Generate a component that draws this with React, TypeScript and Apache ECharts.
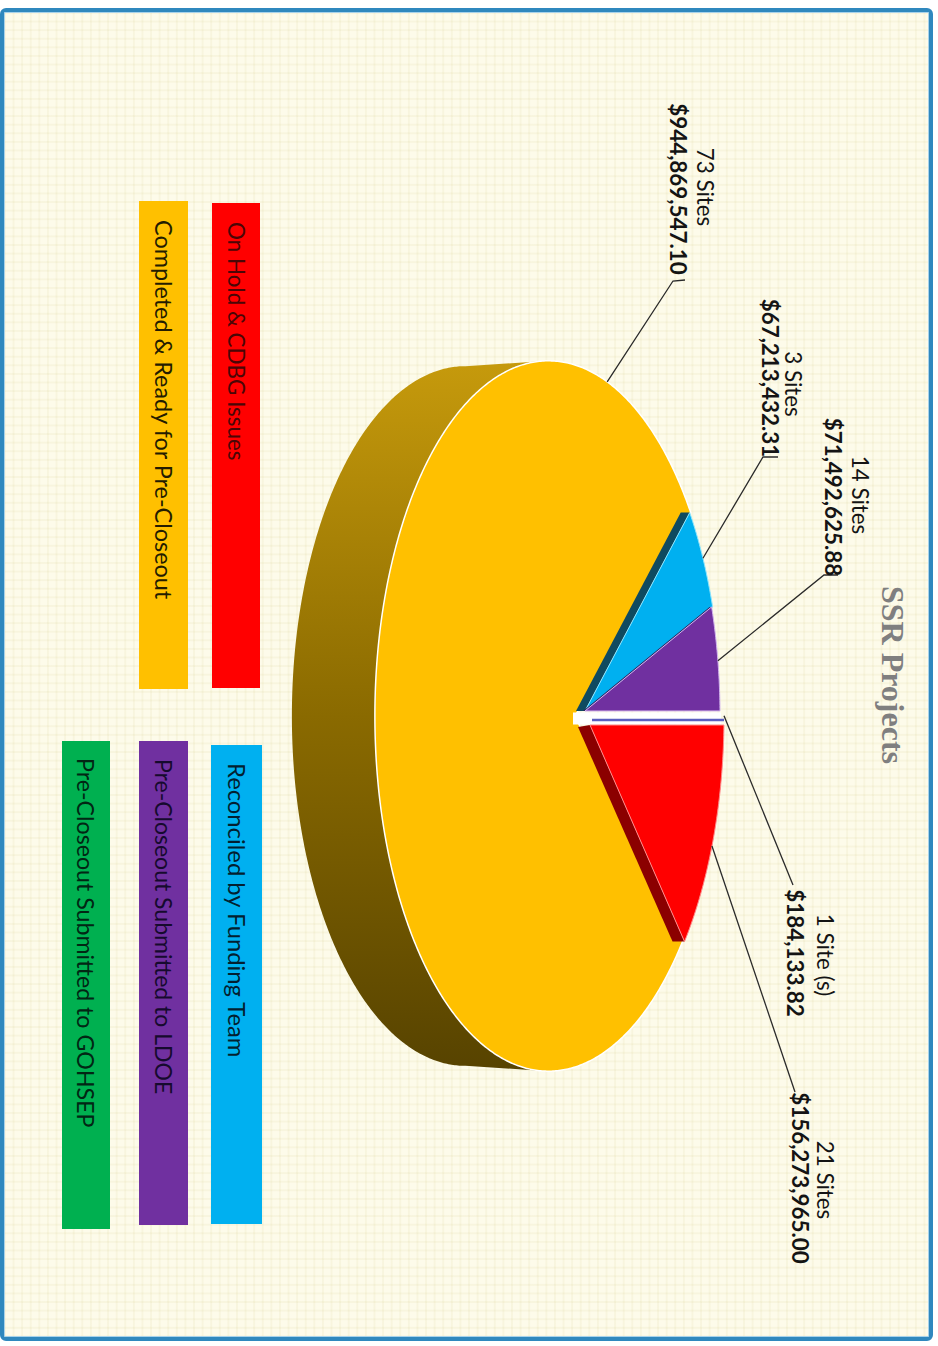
import React, { useEffect, useRef } from "react";
import * as echarts from "echarts";

// ---- data ----
const categories = [
  "Completed & Ready for Pre-Closeout",
  "Reconciled by Funding Team",
  "Pre-Closeout Submitted to LDOE",
  "Pre-Closeout Submitted to GOHSEP",
  "On Hold & CDBG Issues",
];
const amounts = [944869547.1, 67213432.31, 71492625.88, 184133.82, 156273965.0];
const siteLabels = ["73 Sites", "3 Sites", "14 Sites", "1 Site (s)", "21 Sites"];
const titleText = "SSR Projects";

// ---- style / layout (not data) ----
const W = 938;
const H = 1346;
const sliceColors = ["#FFC000", "#00B0F0", "#7030A0", "#5B5FC0", "#FF0000"];
const sliceStrokes = ["#FFFFFF", "#8FE6FF", "#D2B4EE", "#5B5FC0", "#FF8A8A"];
const wallColors = ["", "#0F4A60", "#33215F", "", "#8B0000"];
const sliceOffsetX = [0, -1, -2, 2, 2];
const sliceOffsetY = [0, 0, 0, 0, 0];
const startTrim = [0, 0, 0, 0, 1.7];
const endTrim = [0, 0, 0.9, 0, 0];
const apexX = [575, 585, 585, 592, 590];
const apexY = [716, 711, 711, 720, 725];
const wallDepth = [0, 9, 2, 0, 12];
const leaderFraction = [0.86, 0.5, 0.5, 0.5, 0.55];

const legendItems = [
  { cat: 4, x0: 212, x1: 260, y0: 203, y1: 688, ty: 222, size: 22.4, color: "#FF0000", text: "#4A0606" },
  { cat: 0, x0: 139, x1: 188, y0: 201, y1: 689, ty: 220, size: 23.4, color: "#FFC000", text: "#241C00" },
  { cat: 1, x0: 211, x1: 262, y0: 745, y1: 1224, ty: 763, size: 23.8, color: "#00B0F0", text: "#031F30" },
  { cat: 2, x0: 139, x1: 188, y0: 741, y1: 1225, ty: 759, size: 23, color: "#7030A0", text: "#160A2E" },
  { cat: 3, x0: 62, x1: 110, y0: 741, y1: 1229, ty: 758, size: 23.2, color: "#00B050", text: "#022614" },
];

const labelLayout = [
  { sx: 705, sy: 187, ax: 678, ay: 189, end: [673, 281], bar: [685, 280] },
  { sx: 793, sy: 384, ax: 770, ay: 378, end: [763, 457], bar: [778, 457] },
  { sx: 860, sy: 495, ax: 833, ay: 497, end: [824, 575], bar: [838, 575] },
  { sx: 825, sy: 955, ax: 795, ay: 953, end: [793, 885], bar: null },
  { sx: 825, sy: 1180, ax: 800, ay: 1178, end: [795, 1092], bar: null },
];

// the pie's plane seen in perspective
const CX = 575;
const CY = 716;
const A = 169.5;
const B = 351;
const K = 0.153;
const DEPTH = 83;
const rot = -Math.PI / 2;

function project(deg: number): [number, number] {
  const t = (deg * Math.PI) / 180;
  const u = Math.cos(t);
  const v = Math.sin(t);
  const d = 1 + K * u;
  return [CX + (A * u) / d, CY + (B * v) / d];
}

const total = amounts.reduce((a, b) => a + b, 0);
const spans = amounts.map((v) => (v / total) * 360);
const starts: number[] = [];
{
  let c = spans[4];
  spans.forEach((s, i) => {
    starts[i] = c;
    c += s;
  });
}

function arcPoints(from: number, to: number, dx: number, dy: number) {
  const pts: number[][] = [];
  const n = Math.max(1, Math.ceil((to - from) / 0.5));
  for (let j = 0; j <= n; j++) {
    const p = project(from + ((to - from) * j) / n);
    pts.push([p[0] + dx, p[1] + dy]);
  }
  return pts;
}

function renderSlice(params: any, api: any) {
  const i = params.dataIndex as number;
  api.value(0);
  const from = (i === 4 ? 0 : starts[i]) + startTrim[i];
  const to = (i === 4 ? 0 : starts[i]) + spans[i] - endTrim[i];
  const dx = sliceOffsetX[i];
  const dy = sliceOffsetY[i];
  const children: any[] = [];

  if (i === 0) {
    const ext = (Math.acos(-K) * 180) / Math.PI;
    const back = arcPoints(ext, 360 - ext, -DEPTH, 0).map((p) => [
      p[0],
      CY + (p[1] - CY) * 0.985,
    ]);
    const face = arcPoints(ext, 360 - ext, 0, 0);
    children.push({
      type: "polygon",
      shape: { points: [face[0], ...back, face[face.length - 1]] },
      style: {
        fill: new echarts.graphic.LinearGradient(0, 0, 0, 1, [
          { offset: 0, color: "#C69A0C" },
          { offset: 0.5, color: "#8A6A00" },
          { offset: 1, color: "#574300" },
        ]),
      },
    });
  }

  const arc = arcPoints(from, to, dx, dy);
  const apex = [apexX[i], apexY[i]];

  if (i === 3) {
    children.push({
      type: "line",
      shape: { x1: 573, y1: 718.5, x2: 721, y2: 718.5 },
      style: { stroke: "#FFFFFF", lineWidth: 12 },
    });
    children.push({
      type: "line",
      shape: { x1: apex[0], y1: apex[1], x2: arc[0][0], y2: apex[1] },
      style: { stroke: sliceColors[i], lineWidth: 2.5 },
    });
    return { type: "group", children };
  }

  if (wallDepth[i] > 0) {
    const d = wallDepth[i];
    const e = i === 4 ? arc[arc.length - 1] : arc[0];
    children.push({
      type: "polygon",
      shape: {
        points: [apex, e, [e[0] - d, e[1]], [apex[0] - d, apex[1] + (i === 4 ? 2 : 0)]],
      },
      style: { fill: wallColors[i] },
    });
  }

  children.push({
    type: "polygon",
    shape: { points: [apex, ...arc] },
    style: {
      fill: sliceColors[i],
      stroke: sliceStrokes[i],
      lineWidth: i === 0 ? 1.5 : 1,
      lineJoin: "round",
    },
  });
  return { type: "group", children };
}

function money(v: number) {
  return (
    "$" +
    v.toLocaleString("en-US", { minimumFractionDigits: 2, maximumFractionDigits: 2 })
  );
}

function rotatedText(x: number, y: number, text: string, extra: any) {
  return {
    type: "text",
    x,
    y,
    rotation: rot,
    z: 20,
    style: {
      text,
      fontFamily: "Lato",
      fontSize: 22.4,
      fill: "#141414",
      textAlign: "center",
      textVerticalAlign: "middle",
      ...extra,
    },
  };
}

function buildGraphic() {
  const g: any[] = [];
  g.push({
    type: "rect",
    shape: { x: 2, y: 10, width: 929, height: 1329, r: 4 },
    style: { fill: "transparent", stroke: "#2F88BE", lineWidth: 4 },
    z: 5,
  });
  g.push({
    type: "rect",
    shape: { x: 4.5, y: 12.5, width: 924, height: 1324 },
    style: { fill: "transparent", stroke: "#A8D2EA", lineWidth: 1 },
    z: 5,
  });
  g.push(
    rotatedText(893, 675, titleText, {
      fontFamily: "Liberation Serif",
      fontWeight: "bold",
      fontSize: 32,
      fill: "#7F7F7F",
    })
  );
  legendItems.forEach((l) => {
    g.push({
      type: "rect",
      z: 6,
      shape: { x: l.x0, y: l.y0, width: l.x1 - l.x0, height: l.y1 - l.y0 },
      style: { fill: l.color },
    });
    g.push(
      rotatedText((l.x0 + l.x1) / 2, l.ty, categories[l.cat], {
        textAlign: "left",
        fill: l.text,
        fontSize: l.size,
      })
    );
  });
  labelLayout.forEach((l, i) => {
    const base = i === 4 ? 0 : starts[i];
    const mid = base + spans[i] * leaderFraction[i];
    const p = project(mid);
    const s = [p[0] + sliceOffsetX[i], p[1] + sliceOffsetY[i]];
    const points = l.bar ? [s, l.end, l.bar] : [s, l.end];
    g.push({
      type: "polyline",
      z: 15,
      shape: { points },
      style: { stroke: "#2A2A2A", lineWidth: 1.3, fill: "none" },
    });
    g.push(rotatedText(l.sx, l.sy, siteLabels[i], {}));
    g.push(rotatedText(l.ax, l.ay, money(amounts[i]), { fontWeight: "bold" }));
  });
  return g;
}

export default function App() {
  const ref = useRef<HTMLDivElement>(null);
  useEffect(() => {
    const chart = echarts.init(ref.current!, null, { renderer: "svg" });
    chart.setOption({
      animation: false,
      backgroundColor: "transparent",
      graphic: buildGraphic(),
      series: [
        {
          type: "custom",
          coordinateSystem: "none",
          silent: true,
          z: 10,
          renderItem: renderSlice,
          data: amounts.map((value, i) => ({ name: categories[i], value })),
        },
      ],
    });
    return () => chart.dispose();
  }, []);
  return (
    <div style={{ position: "absolute", left: 0, top: 0, width: W, height: H, background: "#FFFFFF", overflow: "hidden" }}>
      <div
        style={{
          position: "absolute",
          left: 4,
          top: 12,
          width: 925,
          height: 1325,
          backgroundColor: "#FDFBEA",
          backgroundImage:
            "linear-gradient(to right, rgba(214,204,140,0.13) 2px, transparent 2px), linear-gradient(to bottom, rgba(214,204,140,0.13) 2px, transparent 2px)",
          backgroundSize: "8.6px 8.6px",
        }}
      />
      <div ref={ref} style={{ position: "absolute", left: 0, top: 0, width: W, height: H }} />
    </div>
  );
}
